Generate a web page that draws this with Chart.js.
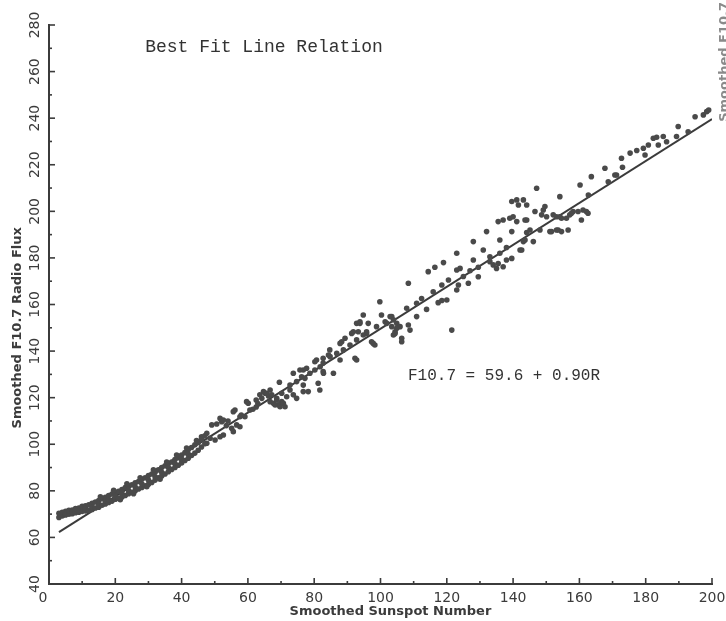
<!DOCTYPE html>
<html>
<head>
<meta charset="utf-8">
<title>Best Fit Line Relation</title>
<script src="https://cdn.jsdelivr.net/npm/chart.js@4.4.1/dist/chart.umd.min.js"></script>
<style>
  html, body { margin: 0; padding: 0; background: #fff; }
  #wrap { width: 726px; height: 621px; position: relative; }
</style>
</head>
<body>
<div id="wrap"><canvas id="fluxChart"></canvas></div>
<script>
// === Data: [smoothed sunspot R, smoothed F10.7] ===
const lowBand = [
  [3,68.6],[3,70.4],[3.5,69.8],[4,69.2],[4,70.8],[5,69.6],[5,71.2],[5,70.2],[6,70],[6,71.6],
  [7,70.2],[7,71.8],[7,71],[8,70.6],[8,72.4],[9,70.8],[9,72.6],[9,71.6],[10,71.2],[10,73.4],
  [11,71.4],[11,73.6],[11,72.4],[12,71.6],[12,74],[13,72],[13,74.6],[13,73],[14,72.6],[14,75.2],
  [15,73],[15,75.8],[15,74.2],[16,73.8],[16,76.6],[17,74.4],[17,77.2],[17,75.6],[18,75],[18,78],
  [18,76.2],[19,75.6],[19,78.6],[20,76.4],[20,79.4],[20,77.6],[21,76.8],[21,79.8],[22,77.4],[22,80.6],
  [22,79],[23,78],[23,81.4],[24,78.8],[24,82.2],[24,80.2],[25,79.4],[25,82.6],[26,80],[26,83.4],
  [26,81.6],[27,80.8],[27,84],[28,81.4],[28,85],[28,83],[29,82.2],[29,85.6],[30,82.8],[30,86.6],
  [30,84.6],[31,83.6],[31,87.2],[32,84.6],[32,88],[32,86],[33,85.6],[33,89],[34,86.4],[34,90],
  [34,88],[35,87.2],[35,90.8],[36,88.2],[36,91.6],[36,90],[37,89.2],[37,92.4],[38,90],[38,93.4],
  [38,91.6],[39,91],[39,94.2],[40,92],[40,95.4],[40,93.6],[41,93],[41,96.4],[42,94],[42,97.6],
  [42,95.8],[43,95.2],[43,98.6],[44,96.2],[44,99.8],[45,97.4],[45,100.8],[46,98.8],[46,102.2],
  [47,100.2],[47,103.6],
  [15.5,77.4],[19.5,80.2],[23.5,83],[27.5,85.6],[31.5,89],[35.5,92.4],[38.5,95.4],[41.5,98.4],[44.5,101.6],
  [21.5,76.2],[25.5,78.8],[29.5,81.8],[33.5,85]
];

const midScatter = [
  [46,103.2],[47.6,104.7],[49.1,108.3],[50.6,108.7],[52.1,109.7],[52.6,104],[48.6,102.6],[50.1,101.8],
  [51.6,103.2],[47.6,100.4],[51.6,111.1],[52.6,110.4],[55.1,106.9],[56.6,108.3],[57.6,107.5],[55.6,114],
  [57.6,111.8],[59.1,111.8],[56.1,114.7],[60.1,117.6],[60.6,114.7],[59.6,118.3],[55.6,105.4],[53.5,108],
  [54,110],[58,112.5],[61.5,115],[62.5,116],[62.5,119],[63,117.5],
  [63.6,121.2],[64.2,119.7],[65.2,121.9],[66.2,120.7],[66.7,118.3],[67.7,117.6],[68.7,119.7],[69.2,116.9],
  [70.2,118.3],[71.2,116.1],[64.7,122.6],[65.7,121.9],[67.2,121.2],[68.7,119],[69.7,116.1],[70.7,117.6],
  [71.7,120.4],[68.2,116.9],[70.2,121.9],[72.7,123.3],[73.7,121.2],[66.7,123.3],[69.5,126.6],
  [72.7,125.4],[74.7,126.9],[76.2,129],[77.2,128.3],[78.7,130.5],[80.2,131.9],[81.8,133.3],[73.7,130.5],
  [76.7,131.9],[80.7,136.2],[84.7,140.5],[88.3,144],[89.3,145.5],[74.7,119.7],[76.7,125.4],[78.2,122.6],
  [81.2,126.2],[82.8,130.5],[85.8,130.5],[87.8,136.2],[92.3,136.9],[82.7,134.9],[84.8,137.6],[86.8,139],
  [88.8,140.5],[90.8,142.6],[92.8,144.8],[92.8,151.9],[93.3,148.3],[75.7,131.9],[77.7,132.6],[80.2,135.4],
  [82.7,136.9],[84.3,138.3],[87.8,143.3],[91.3,147.6],[93.8,151.9],[94.8,155.5],[99.8,161.2],
  [95.8,147.6],[98.8,150.5],[92.8,136.2],[97.8,143.3],[98.3,142.6],[76.7,122.6],[81.7,123.3],[82.7,131.2],
  [91.8,148.3],[94.8,146.9],[95.8,148.3],[93.8,152.6],[96.3,151.9],[97.3,144],[100.3,155.5]
];

const highScatter = [
  [101.4,152.6],[103.4,154.8],[101.9,151.9],[102.9,154.8],[103.9,153.4],[103.4,150.5],[104.9,151.9],
  [104.4,148.3],[105.9,150.5],[106.4,145.5],[108.4,151.2],[108.9,149],[103.9,146.9],[106.4,144],
  [104.9,149.8],[104.4,147.6],[110.9,154.8],[113.9,157.9],[121.5,149],[108.4,169.1],[114.4,174.1],
  [116.4,176],[119,178],[123,182],[128,187],[132,191.3],[136,187.7],[139.6,191.3],
  [107.9,158.4],[110.9,160.5],[112.4,162.6],[115.9,165.5],[118.5,168.4],[120.5,170.5],
  [117.4,160.8],[118.5,161.7],[120,161.9],[123,166.2],[123.5,168.4],[126.5,169.1],[129.5,171.9],
  [123,174.8],[124,175.5],[128,179.1],[131,183.4],[133,178.4],[134,177],[135,175.5],[135.5,177.6],
  [137,176.2],[138,179.1],[139.6,179.8],[142.1,183.4],[143.1,187],[144.1,190.9],
  [135.5,195.6],[137,196.3],[139,197],[140,197.7],[141.1,195.6],[139.6,204.2],[141.1,204.9],
  [141.6,202.7],[143.6,196.3],[144.1,202.7],[143.1,204.9],
  [125,172],[127,174.5],[129.5,176],[133,180.5],[136,182],[138,184.5],
  [146.6,199.9],[149.1,200.6],[149.6,202.1],[148.6,198.5],[150.1,197.7],[152.1,198.5],[153.1,197.7],
  [154.1,197.7],[154.6,197],[157.1,198.5],[158.1,199.9],[159.6,199.9],[161.1,200.6],[162.1,199.9],
  [162.6,199.2],[160.6,196.3],[156.1,197],[157.6,199.2],
  [144.1,196.3],[145.1,192],[148.1,192],[151.6,191.3],[153.6,192],[154.6,191.3],[156.6,192],
  [146.1,187],[143.6,187.7],[142.6,183.4],[151.1,191.3],[153.1,192],
  [147.1,209.9],[154.1,206.3],[160.2,211.3],[163.6,214.9],[167.7,218.5],[170.7,215.6],[172.7,222.8],
  [173,218.9],[175.3,225],[177.3,226.1],[179.3,227.1],[180.8,228.5],[182.3,231.4],[183.3,231.8],
  [185.3,232.1],[189.8,236.4],[194.9,240.6],[197.4,241.4],[198.4,242.8],[199,243.5],
  [162.7,207],[168.7,212.7],[171.2,215.6],[179.8,224.2],[183.8,228.5],[186.3,229.9],[189.3,232.1],
  [192.8,234.2]
];

// best fit line F10.7 = 59.6 + 0.90R, end points as drawn
const fitR = [3, 200];
const fitF = [62.3, 239.6];

const xTickValues = [0, 20, 40, 60, 80, 100, 120, 140, 160, 180, 200];
const yTickValues = [40, 60, 80, 100, 120, 140, 160, 180, 200, 220, 240, 260, 280];

const ink = "#3b3b3b";
const dotInk = "#4a4a4a";

const toXY = arr => arr.map(p => ({ x: p[0], y: p[1] }));

// === Axis ticks, labels and notes drawn like the paper figure ===
const paperText = {
  id: "paperText",
  afterDraw(chart) {
    const { ctx, chartArea: area } = chart;
    const x = chart.scales.x, y = chart.scales.y;
    ctx.save();
    ctx.strokeStyle = ink;
    ctx.lineWidth = 1.6;

    // tick marks pointing into the plot, long every 20, short every 10
    for (let v = x.min; v <= x.max; v += 10) {
      const px = x.getPixelForValue(v);
      const len = v % 20 === 0 ? 6 : 3;
      ctx.beginPath(); ctx.moveTo(px, area.bottom); ctx.lineTo(px, area.bottom - len); ctx.stroke();
    }
    for (let v = y.min; v <= y.max; v += 10) {
      const py = y.getPixelForValue(v);
      const len = v % 20 === 0 ? 6 : 3;
      ctx.beginPath(); ctx.moveTo(area.left, py); ctx.lineTo(area.left + len, py); ctx.stroke();
    }

    ctx.fillStyle = ink;
    ctx.textAlign = "center";
    ctx.textBaseline = "middle";

    // x tick labels
    ctx.font = "14px 'DejaVu Sans'";
    xTickValues.forEach(v => {
      const px = x.getPixelForValue(v) - (v === 0 ? 6 : 0);
      ctx.fillText(String(v), px, area.bottom + 14);
    });

    // y tick labels, turned to read upward
    yTickValues.forEach(v => {
      ctx.save();
      ctx.translate(area.left - 14, y.getPixelForValue(v));
      ctx.rotate(-Math.PI / 2);
      ctx.fillText(String(v), 0, 0);
      ctx.restore();
    });

    // axis titles
    ctx.font = "bold 13px 'DejaVu Sans'";
    ctx.fillText("Smoothed Sunspot Number", x.getPixelForValue(103), area.bottom + 28);
    ctx.save();
    ctx.translate(area.left - 31, y.getPixelForValue(150));
    ctx.rotate(-Math.PI / 2);
    ctx.fillText("Smoothed F10.7 Radio Flux", 0, 0);
    ctx.restore();

    // title and fit equation
    ctx.textAlign = "left";
    ctx.fillStyle = "#333";
    ctx.font = "18px 'Liberation Mono'";
    ctx.fillText("Best Fit Line Relation", x.getPixelForValue(29), y.getPixelForValue(270.6));
    ctx.font = "16px 'Liberation Mono'";
    ctx.fillText("F10.7 = 59.6 + 0.90R", x.getPixelForValue(108.3), y.getPixelForValue(129.3));

    // edge of the neighbouring figure, cut off by the page
    ctx.fillStyle = "#8a8a8a";
    ctx.font = "bold 13px 'DejaVu Sans'";
    ctx.textAlign = "right";
    ctx.save();
    ctx.translate(chart.width - 1, 2);
    ctx.rotate(-Math.PI / 2);
    ctx.fillText("Smoothed F10.7", 0, 0);
    ctx.restore();

    ctx.restore();
  }
};

const dotStyle = {
  type: "scatter",
  pointRadius: 2.8,
  pointBackgroundColor: dotInk,
  pointBorderWidth: 0,
  showLine: false
};

new Chart(document.getElementById("fluxChart"), {
  type: "scatter",
  data: {
    datasets: [
      { label: "low", data: toXY(lowBand), ...dotStyle },
      { label: "mid", data: toXY(midScatter), ...dotStyle },
      { label: "high", data: toXY(highScatter), ...dotStyle },
      {
        label: "fit",
        type: "line",
        data: fitR.map((r, i) => ({ x: r, y: fitF[i] })),
        borderColor: ink,
        borderWidth: 2,
        pointRadius: 0,
        fill: false
      }
    ]
  },
  options: {
    responsive: true,
    maintainAspectRatio: false,
    animation: false,
    layout: { padding: { left: 0, right: 14, top: 25, bottom: 0 } },
    plugins: { legend: { display: false }, tooltip: { enabled: false } },
    scales: {
      x: {
        type: "linear", min: 0, max: 200,
        ticks: { display: false, stepSize: 20 },
        grid: { display: false },
        border: { display: true, color: ink, width: 2 },
        afterFit: s => { s.height = 37; }
      },
      y: {
        type: "linear", min: 40, max: 280,
        ticks: { display: false, stepSize: 20 },
        grid: { display: false },
        border: { display: true, color: ink, width: 2 },
        afterFit: s => { s.width = 49; }
      }
    }
  },
  plugins: [paperText]
});
</script>
</body>
</html>
